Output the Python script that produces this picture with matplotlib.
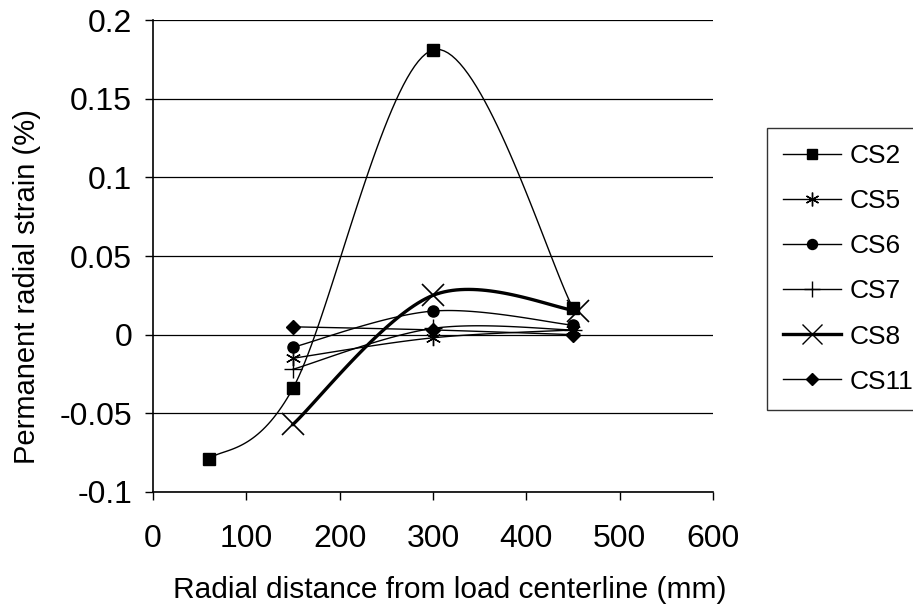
import numpy as np
import matplotlib
matplotlib.use("Agg")
import matplotlib.pyplot as plt

plt.rcParams['font.family'] = ['Liberation Sans', 'DejaVu Sans']

# Datos
series = ['CS2', 'CS5', 'CS6', 'CS7', 'CS8', 'CS11']
x_cs2 = [60, 150, 300, 450]
y_cs2 = [-0.079, -0.034, 0.181, 0.017]
x_cs5 = [150, 300, 450]
y_cs5 = [-0.015, -0.002, 0.003]
x_cs6 = [150, 300, 450]
y_cs6 = [-0.008, 0.015, 0.006]
x_cs7 = [150, 300, 450]
y_cs7 = [-0.022, 0.004, 0.003]
x_cs8 = [150, 300, 455]
y_cs8 = [-0.057, 0.025, 0.015]
x_cs11 = [150, 300, 450]
y_cs11 = [0.005, 0.003, 0.0]

x_ticks = [0, 100, 200, 300, 400, 500, 600]
y_ticks = [-0.1, -0.05, 0, 0.05, 0.1, 0.15, 0.2]
y_ticklabels = ['-0.1', '-0.05', '0', '0.05', '0.1', '0.15', '0.2']


def suavizar(xs, ys, n=40):
    """Curva suavizada tipo Excel (Bezier con tangentes Catmull-Rom)"""
    p = np.column_stack([xs, ys]).astype(float)
    pts = [p[0]]
    for i in range(len(p) - 1):
        p0 = p[i - 1] if i > 0 else p[i]
        p3 = p[i + 2] if i + 2 < len(p) else p[i + 1]
        c1 = p[i] + (p[i + 1] - p0) / 6
        c2 = p[i + 1] - (p3 - p[i]) / 6
        t = np.linspace(0, 1, n)[1:, None]
        b = ((1 - t) ** 3) * p[i] + 3 * ((1 - t) ** 2) * t * c1 \
            + 3 * (1 - t) * t ** 2 * c2 + t ** 3 * p[i + 1]
        pts.extend(b)
    pts = np.array(pts)
    return pts[:, 0], pts[:, 1]


fig = plt.figure(figsize=(9.13, 6.14), dpi=100)
ax = fig.add_axes([0.1676, 0.1987, 0.6133, 0.7687])

estilos = [
    (x_cs2, y_cs2, 's', 8, 1.0, 'CS2'),
    (x_cs5, y_cs5, (6, 2, 0), 11, 1.0, 'CS5'),
    (x_cs6, y_cs6, 'o', 8, 1.0, 'CS6'),
    (x_cs7, y_cs7, '+', 13, 1.0, 'CS7'),
    (x_cs8, y_cs8, 'x', 16, 2.4, 'CS8'),
    (x_cs11, y_cs11, 'D', 7, 1.0, 'CS11'),
]

for xs, ys, mk, ms, lw, nombre in estilos:
    sx, sy = suavizar(xs, ys)
    ax.plot(sx, sy, color='black', linewidth=lw, zorder=3)
    ax.plot(xs, ys, linestyle='none', marker=mk, markersize=ms,
            color='black', markeredgewidth=1.0 if mk != 'x' else 1.2, zorder=4)
    # entrada de leyenda
    ax.plot([], [], color='black', linewidth=lw, marker=mk, markersize=ms * 0.9,
            markeredgewidth=1.0, label=nombre)

ax.set_xlim(0, 600)
ax.set_ylim(-0.1, 0.2)
ax.set_xticks(x_ticks)
ax.set_yticks(y_ticks)
ax.set_yticklabels(y_ticklabels)
ax.tick_params(axis='both', labelsize=23, direction='out', length=6, width=1,
               colors='black')
ax.tick_params(axis='x', pad=17)
ax.tick_params(axis='y', pad=9)
ax.yaxis.grid(True, color='black', linewidth=0.9)
ax.set_axisbelow(True)
for lado in ['top', 'right']:
    ax.spines[lado].set_visible(False)
for lado in ['left', 'bottom']:
    ax.spines[lado].set_linewidth(1.2)

ax.set_xlabel('Radial distance from load centerline (mm)', fontsize=21.5)
ax.set_ylabel('Permanent radial strain (%)', fontsize=21)
ax.xaxis.set_label_coords(0.53, -0.177)
ax.yaxis.set_label_coords(-0.2, 0.435)

leg = fig.legend(loc='upper left', bbox_to_anchor=(0.840, 0.792), fontsize=19,
                 frameon=True, fancybox=False, edgecolor='black',
                 handlelength=2.2, handletextpad=0.3, labelspacing=0.8,
                 borderpad=0.62, borderaxespad=0)
leg.get_frame().set_linewidth(1.0)

plt.savefig('out.png', dpi=100)
